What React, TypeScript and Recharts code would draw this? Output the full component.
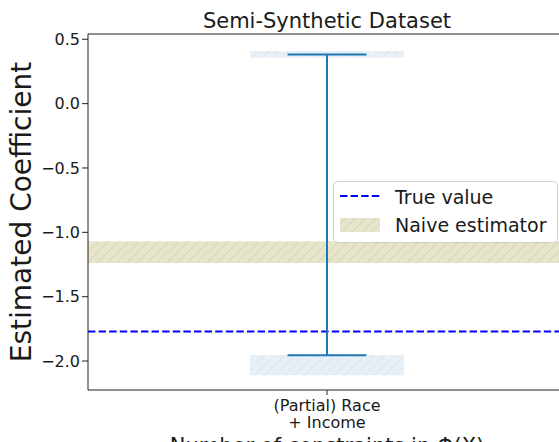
import {
  ComposedChart,
  Line,
  XAxis,
  YAxis,
  ReferenceArea,
  ReferenceLine,
  Legend,
} from "recharts";

// categories on the x axis
const categories = ["(Partial) Race\n+ Income"];
const categoryPos = [0];

// estimated coefficient range per category
const estimateLow = [-1.955];
const estimateHigh = [0.381];

// shaded boxes at both ends of the range
const upperBoxLow = [0.358];
const upperBoxHigh = [0.409];
const lowerBoxLow = [-2.111];
const lowerBoxHigh = [-1.953];

const trueValue = [-1.77];
const naiveLow = [-1.239];
const naiveHigh = [-1.07];

const yTicks = [-2, -1.5, -1, -0.5, 0, 0.5];
const Y_DOMAIN: [number, number] = [-2.225, 0.541];
const X_DOMAIN: [number, number] = [-1, 1];
const BOX_HALF = 0.322;
const CAP_HALF = 0.165;

const FONT = "DejaVu Sans, Liberation Sans, sans-serif";
const ERR_COLOR = "#1f77b4";

const stemData = categoryPos.flatMap((x, i) => [
  { x, y: estimateLow[i] },
  { x, y: estimateHigh[i] },
]);

const fmt = (v: number) => (v < 0 ? "\u2212" : "") + Math.abs(v).toFixed(1);

function CategoryTick({ x, y, payload }: any) {
  const idx = categoryPos.indexOf(payload.value);
  const lines = idx >= 0 ? categories[idx].split("\n") : [];
  return (
    <text x={x} y={y} textAnchor="middle" fontSize={16} fill="#1a1a1a" fontFamily={FONT}>
      {lines.map((l, i) => (
        <tspan key={i} x={x} dy={i === 0 ? 14 : 17}>
          {l}
        </tspan>
      ))}
    </text>
  );
}

function LegendBox() {
  return (
    <svg width={226} height={63} style={{ display: "block" }}>
      <rect x={0.5} y={0.5} width={224} height={61} rx={4} fill="rgba(255,255,255,0.85)" stroke="#d0d0d0" />
      <line x1={7} y1={15} x2={47} y2={15} stroke="#0000ff" strokeWidth={2} strokeDasharray="7.4 3.2" />
      <text x={62} y={23} fontSize={19} fontFamily={FONT} fill="#1a1a1a">True value</text>
      <rect x={7} y={37} width={40} height={14} fill="url(#olive-hatch)" />
      <text x={62} y={51} fontSize={19} fontFamily={FONT} fill="#1a1a1a">Naive estimator</text>
    </svg>
  );
}

export default function App() {
  return (
    <div style={{ position: "absolute", left: 0, top: 0, width: 559, height: 442, overflow: "hidden", background: "#fff" }}>
      <ComposedChart
        width={580}
        height={460}
        data={stemData}
        margin={{ top: 34, right: 14, bottom: 0, left: 0 }}
        style={{ fontFamily: FONT }}
      >
        <defs>
          <pattern id="olive-hatch" patternUnits="userSpaceOnUse" width={10} height={10}>
            <rect width={10} height={10} fill="#e6e5cb" />
            <path d="M-1,1 l2,-2 M0,10 l10,-10 M9,11 l2,-2" stroke="#d6d4a4" strokeWidth={1} />
          </pattern>
          <pattern id="blue-hatch" patternUnits="userSpaceOnUse" width={10} height={10}>
            <rect width={10} height={10} fill="#e8f0f7" />
            <path d="M-1,1 l2,-2 M0,10 l10,-10 M9,11 l2,-2" stroke="#d5e3ef" strokeWidth={1} />
          </pattern>
        </defs>
        <XAxis
          dataKey="x"
          type="number"
          domain={X_DOMAIN}
          ticks={categoryPos}
          tick={<CategoryTick />}
          tickSize={5}
          tickMargin={2}
          height={70}
          stroke="#222"
          allowDataOverflow
        />
        <YAxis
          type="number"
          domain={Y_DOMAIN}
          ticks={yTicks}
          tickFormatter={fmt}
          tick={{ fontSize: 16, fill: "#1a1a1a", fontFamily: FONT }}
          tickSize={6}
          tickMargin={2}
          width={88}
          stroke="#222"
          allowDataOverflow
        />
        <ReferenceLine y={Y_DOMAIN[1]} stroke="#222" />
        {categoryPos.map((x, i) => (
          <ReferenceArea
            key={"ub" + i}
            x1={x - BOX_HALF}
            x2={x + BOX_HALF}
            y1={upperBoxLow[i]}
            y2={upperBoxHigh[i]}
            fill="url(#blue-hatch)"
            fillOpacity={1}
            stroke="none"
          />
        ))}
        {categoryPos.map((x, i) => (
          <ReferenceArea
            key={"lb" + i}
            x1={x - BOX_HALF}
            x2={x + BOX_HALF}
            y1={lowerBoxLow[i]}
            y2={lowerBoxHigh[i]}
            fill="url(#blue-hatch)"
            fillOpacity={1}
            stroke="none"
          />
        ))}
        <ReferenceArea
          y1={naiveLow[0]}
          y2={naiveHigh[0]}
          fill="url(#olive-hatch)"
          fillOpacity={1}
          stroke="none"
        />
        <ReferenceLine y={trueValue[0]} stroke="#0000ff" strokeWidth={2} strokeDasharray="7.4 3.2" />
        <Line
          dataKey="y"
          type="linear"
          stroke={ERR_COLOR}
          strokeWidth={2}
          dot={false}
          isAnimationActive={false}
        />
        {categoryPos.map((x, i) => (
          <ReferenceLine
            key={"ch" + i}
            segment={[
              { x: x - CAP_HALF, y: estimateHigh[i] },
              { x: x + CAP_HALF, y: estimateHigh[i] },
            ]}
            stroke={ERR_COLOR}
            strokeWidth={2}
          />
        ))}
        {categoryPos.map((x, i) => (
          <ReferenceLine
            key={"cl" + i}
            segment={[
              { x: x - CAP_HALF, y: estimateLow[i] },
              { x: x + CAP_HALF, y: estimateLow[i] },
            ]}
            stroke={ERR_COLOR}
            strokeWidth={2}
          />
        ))}
        <Legend
          layout="vertical"
          align="center"
          verticalAlign="middle"
          content={() => <LegendBox />}
          wrapperStyle={{ left: 333, top: 181, width: 226, height: 63 }}
        />
        <text x={327} y={28} textAnchor="middle" fontSize={21} fill="#1a1a1a" fontFamily={FONT}>
          Semi-Synthetic Dataset
        </text>
        <text x={327} y={453} textAnchor="middle" fontSize={21} fill="#1a1a1a" fontFamily={FONT}>
          Number of constraints in Φ(X)
        </text>
        <text
          x={31}
          y={212}
          textAnchor="middle"
          fontSize={28}
          fill="#1a1a1a"
          fontFamily={FONT}
          transform="rotate(-90, 31, 212)"
        >
          Estimated Coefficient
        </text>
      </ComposedChart>
    </div>
  );
}
